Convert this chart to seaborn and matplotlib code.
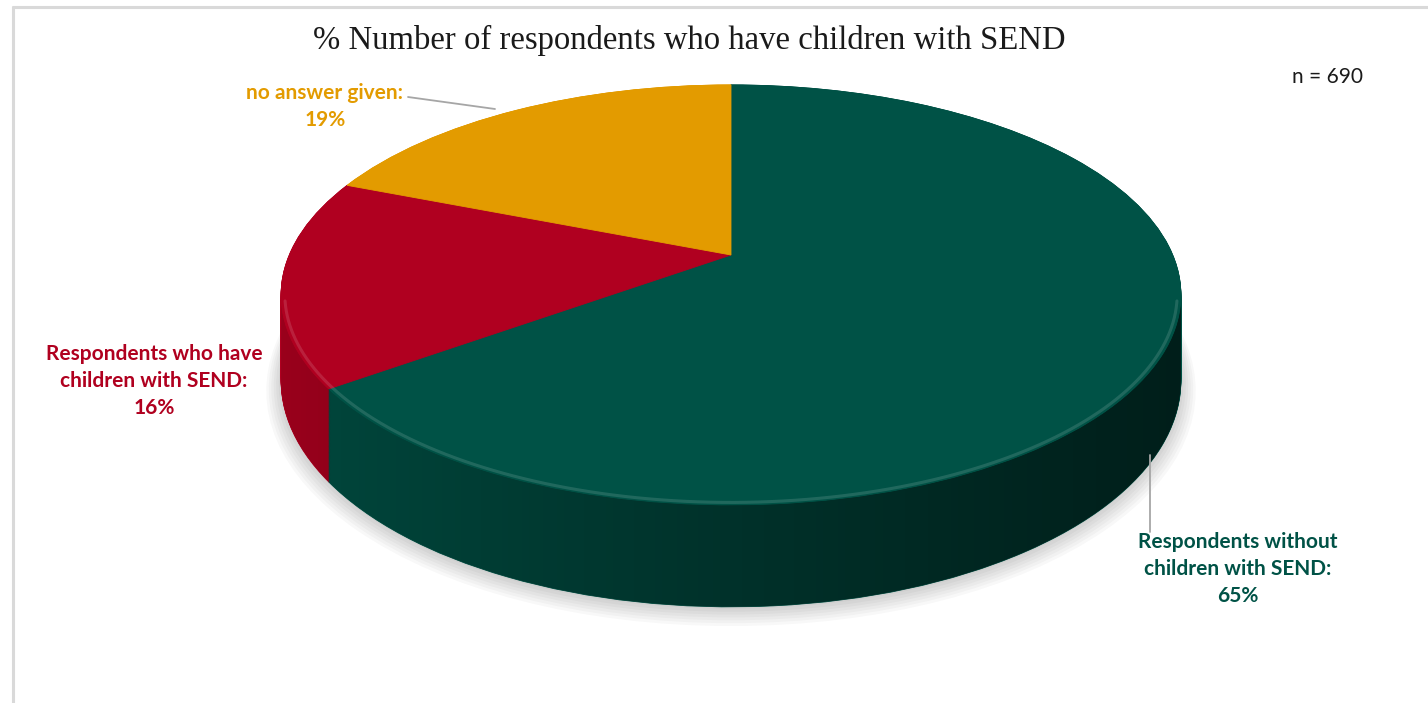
import numpy as np
import matplotlib
matplotlib.use("Agg")
import matplotlib.pyplot as plt
from matplotlib.path import Path
from matplotlib.patches import PathPatch, Circle
from matplotlib.transforms import Transform
import seaborn as sns

# ---- data -------------------------------------------------------------
categories = ["Respondents without\nchildren with SEND",
              "Respondents who have\nchildren with SEND",
              "no answer given"]
shares = [65, 16, 19]
n_respondents = 690
title = "% Number of respondents who have children with SEND"

# ---- style ------------------------------------------------------------
sns.set_theme(style="white")
plt.rcParams["font.family"] = ["Lato", "DejaVu Sans"]
palette = sns.color_palette(["#005246", "#B00020", "#E39B00"])
label_colors = ["#005246", "#B0001F", "#E39B00"]

W, H = 1428, 703
fig = plt.figure(figsize=(W / 100, H / 100), dpi=100)
fig.patch.set_facecolor("white")

# ---- perspective camera for the pie disc -------------------------------
# unit disc in the (X, Y) plane, Y pointing away from the viewer, Z up.
CX, CY = 731.0, 255.0      # screen position of the disc centre (px)
F, C = 441.7, 202.4        # horizontal / vertical projection scale (px)
S = 0.19                   # perspective strength (depth foreshortening)
K = 82.6                   # screen height of the full thickness (px)


class Persp(Transform):
    input_dims = output_dims = 2

    def __init__(self, z):
        super().__init__()
        self.z = z

    def transform_non_affine(self, xy):
        xy = np.asarray(xy, dtype=float)
        X, Y = xy[:, 0], xy[:, 1]
        w = 1.0 + S * Y
        return np.column_stack([CX + F * X / w, CY - (C * Y + K * self.z) / w])


pax = fig.add_axes([0, 0, 1, 1])


def draw_pie(z, zorder):
    wedges, _ = pax.pie(shares, colors=palette, startangle=90, counterclock=False,
                        radius=1, center=(0, 0))
    tr = Persp(z) + pax.transData
    for w, c in zip(wedges, palette):
        w.set_transform(tr)
        w.set_edgecolor(c)
        w.set_linewidth(0.6)
        w.set_zorder(zorder)
        w.set_clip_on(False)
    return wedges


# soft shadow under the base
for i in range(7):
    sh = Circle((0, -0.004 * i), 1.0 + 0.0045 * i, facecolor="black",
                edgecolor="none", alpha=0.028, zorder=0)
    pax.add_patch(sh)
    sh.set_transform(Persp(-1.02) + pax.transData)
    sh.set_clip_on(False)

# extruded side wall built from stacked pies (bottom layer first)
for z in np.linspace(-1.0, 0.0, 110):
    draw_pie(z, 1)

# horizontal shading over the visible front wall
a0 = np.arcsin(S)
t = np.linspace(np.pi + a0, 2 * np.pi - a0, 240)
rim_top = Persp(0.0).transform(np.column_stack([np.cos(t), np.sin(t)]))
rim_bot = Persp(-1.0).transform(np.column_stack([np.cos(t), np.sin(t)]))[::-1]
wall_xy = np.vstack([rim_top, rim_bot, rim_top[:1]])
clip = PathPatch(Path(wall_xy, closed=True), transform=pax.transData,
                 facecolor="none", edgecolor="none")
pax.add_patch(clip)
grad = np.zeros((2, 256, 4))
grad[..., 3] = 0.13 + 0.50 * np.linspace(0, 1, 256) ** 0.9
img = pax.imshow(grad, extent=(wall_xy[:, 0].min(), wall_xy[:, 0].max(),
                               wall_xy[:, 1].max(), wall_xy[:, 1].min()),
                 aspect="auto", interpolation="bilinear", zorder=2)
img.set_clip_path(clip)

# top face
draw_pie(0.0, 4)

# bevel highlight along the front rim
tb = np.linspace(np.pi + a0 + 0.03, 2 * np.pi - a0 - 0.03, 240)
rim = Persp(0.0).transform(np.column_stack([0.992 * np.cos(tb), 0.992 * np.sin(tb)]))
pax.plot(rim[:, 0], rim[:, 1], color="white", alpha=0.13, lw=2.2, zorder=5)

pax.set_aspect("auto")
pax.set_xlim(0, W)
pax.set_ylim(H, 0)
pax.axis("off")

# ---- frame, title, labels (pixel coordinates) ---------------------------
bg = fig.add_axes([0, 0, 1, 1])
bg.set_xlim(0, W)
bg.set_ylim(H, 0)
bg.axis("off")
bg.patch.set_visible(False)
bg.plot([12, W], [6.5, 6.5], color="#D9D9D9", lw=2.2, solid_capstyle="butt")
bg.plot([13, 13], [6, H], color="#D9D9D9", lw=2.2, solid_capstyle="butt")

bg.text(689, 40, title, ha="center", va="center", fontsize=23.6,
        family=["Liberation Serif", "DejaVu Serif"], color="#1a1a1a")
bg.text(1327, 77, f"n = {n_respondents}", ha="center", va="center",
        fontsize=15, color="#1a1a1a")

label_pos = [(1238, 542), (154, 354), (325, 93)]
for cat, val, col, (lx, ly) in zip(categories, shares, label_colors, label_pos):
    lines = (cat + ":").split("\n") + [f"{val}%"]
    for i, line in enumerate(lines):
        bg.text(lx, ly + i * 27, line, ha="center", va="center", fontsize=15,
                fontweight="bold", color=col)

# leader lines
bg.plot([408, 495], [97, 109], color="#A6A6A6", lw=1.3)
bg.plot([1150, 1150], [455, 532], color="#A6A6A6", lw=1.3)

fig.savefig("out.png", dpi=100, facecolor="white")
